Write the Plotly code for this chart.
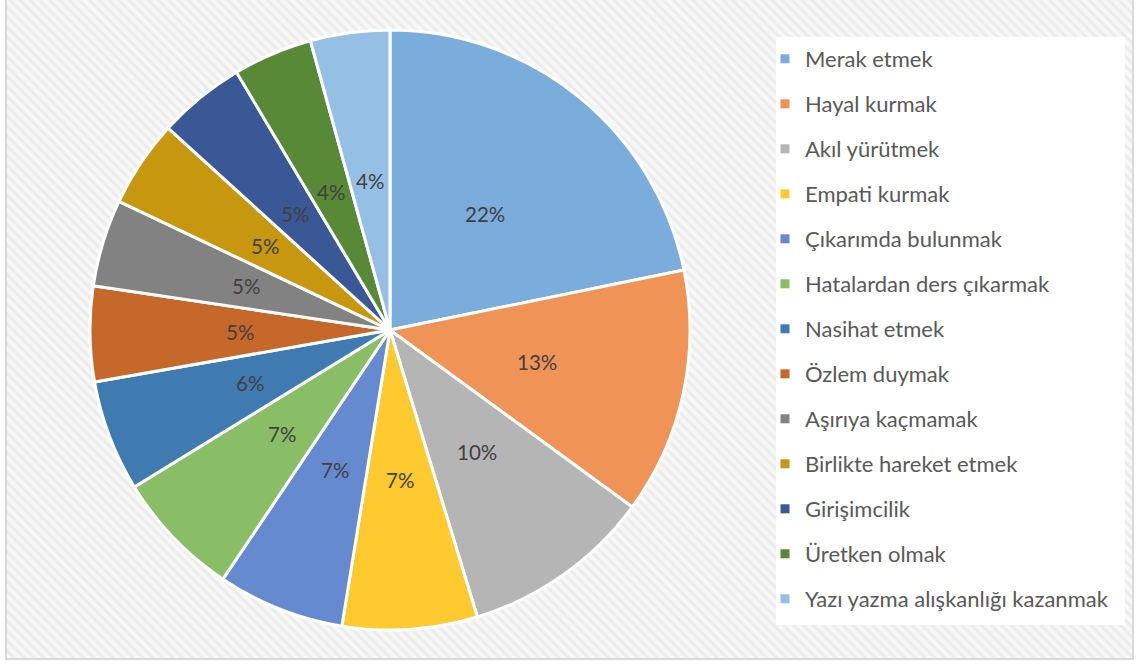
import math
import plotly.graph_objects as go

# ---- data ----
labels = [
    "Merak etmek", "Hayal kurmak", "Akıl yürütmek", "Empati kurmak",
    "Çıkarımda bulunmak", "Hatalardan ders çıkarmak", "Nasihat etmek",
    "Özlem duymak", "Aşırıya kaçmamak", "Birlikte hareket etmek",
    "Girişimcilik", "Üretken olmak", "Yazı yazma alışkanlığı kazanmak",
]
counts = [51, 31, 24, 17, 16, 16, 14, 12, 11, 11, 11, 10, 10]

# ---- style ----
colors = [
    "#7aacdc", "#f09356", "#b5b5b5", "#ffca30", "#668acf", "#89bd66",
    "#3f7bb1", "#c66829", "#828282", "#c6970f", "#395895", "#588937",
    "#96bfe5",
]
W, H = 1140, 666
FONT = "Lato"

# pie placement (pixels)
pie_cx, pie_cy, pie_r = 390, 330, 300
dom_x = [(pie_cx - pie_r) / W, (pie_cx + pie_r) / W]
dom_y = [1 - (pie_cy + pie_r) / H, 1 - (pie_cy - pie_r) / H]

fig = go.Figure()

# hatched chart background
fx0, fx1, fy0, fy1 = 6 / W, 1133 / W, 1 - 659 / H, 1.0
fig.add_trace(go.Scatter(
    x=[fx0, fx1, fx1, fx0, fx0], y=[fy0, fy0, fy1, fy1, fy0],
    mode="lines", fill="toself", line=dict(width=0),
    fillcolor="#f8f8f8",
    fillpattern=dict(shape="\\", fgcolor="#e0e0e0", bgcolor="#f8f8f8",
                     size=7, solidity=0.45),
    hoverinfo="skip", showlegend=False,
))

# legend entries
for lab, col in zip(labels, colors):
    fig.add_trace(go.Scatter(
        x=[None], y=[None], mode="markers", name=lab, legendgroup=lab,
        marker=dict(symbol="square", size=9, color=col),
        showlegend=True,
    ))

fig.add_trace(go.Pie(
    labels=labels, values=counts, sort=False, direction="clockwise",
    rotation=0, marker=dict(colors=colors, line=dict(color="white", width=3)),
    textinfo="none", domain=dict(x=dom_x, y=dom_y), showlegend=False,
))

# percentage labels at half radius along each slice bisector
total = sum(counts)
cum = 0
annotations = []
for v in counts:
    mid = (cum + v / 2) / total * 2 * math.pi
    cum += v
    px = pie_cx + 0.5 * pie_r * math.sin(mid)
    py = pie_cy - 0.5 * pie_r * math.cos(mid)
    annotations.append(dict(
        x=px / W, y=1 - py / H, xref="paper", yref="paper",
        text=f"{round(100 * v / total)}%", showarrow=False,
        font=dict(family=FONT, size=20.5, color="#404040"),
        xanchor="center", yanchor="middle",
    ))

fig.update_layout(
    width=W, height=H,
    margin=dict(l=0, r=0, t=0, b=0),
    paper_bgcolor="white", plot_bgcolor="rgba(0,0,0,0)",
    xaxis=dict(range=[0, 1], visible=False, fixedrange=True),
    yaxis=dict(range=[0, 1], visible=False, fixedrange=True),
    showlegend=True,
    legend=dict(
        x=765 / W, y=1 - 38 / H, xanchor="left", yanchor="top",
        bgcolor="rgba(0,0,0,0)", font=dict(family=FONT, size=22, color="#595959"),
        tracegroupgap=13.4, itemclick=False, itemdoubleclick=False,
    ),
    annotations=annotations,
    shapes=[
        dict(type="rect", xref="paper", yref="paper",
             x0=776 / W, x1=1125 / W, y0=1 - 625 / H, y1=1 - 37 / H,
             fillcolor="white", line=dict(width=0), layer="above"),
        dict(type="rect", xref="paper", yref="paper",
             x0=fx0, x1=fx1, y0=fy0, y1=1.01,
             fillcolor="rgba(0,0,0,0)", line=dict(color="#d9d9d9", width=2),
             layer="above"),
    ],
)

fig.write_html("out.html", config={"displayModeBar": False},
               post_script="document.body.style.margin='0';")
